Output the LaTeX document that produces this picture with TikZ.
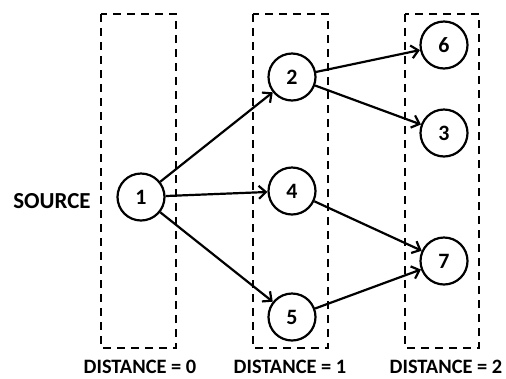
\documentclass[tikz,border=0pt]{standalone}
\usepackage{fontspec}
\setmainfont{Carlito}
\usetikzlibrary{arrows.meta}

\begin{document}
\begin{tikzpicture}[x=1bp, y=-1bp,
	vertex/.style={circle, draw, line width=2.2bp, minimum size=47bp, inner sep=0pt, font=\fontsize{22}{24}\selectfont\bfseries},
	level/.style={font=\fontsize{20.5}{24}\selectfont\bfseries},
	edge/.style={line width=2.2bp, -{Straight Barb[length=7bp, width=13bp, line width=2.2bp]}},
	column/.style={line width=2.2bp, dash pattern=on 8bp off 6bp}]
	\useasboundingbox (0, 0) rectangle (506, 378);
	% columns
	\draw[column] (101, 14) rectangle (176, 348);
	\draw[column] (253, 14) rectangle (328, 348);
	\draw[column] (405, 14) rectangle (479, 348);
	% vertices
	\node[vertex] (v1) at (141, 197) {1};
	\node[vertex] (v2) at (292, 77) {2};
	\node[vertex] (v4) at (292, 191) {4};
	\node[vertex] (v5) at (292, 317) {5};
	\node[vertex] (v6) at (444, 45) {6};
	\node[vertex] (v3) at (444, 133) {3};
	\node[vertex] (v7) at (444, 261) {7};
	% labels
	\node[level, font=\fontsize{23}{26}\selectfont\bfseries] (src) at (52, 201) {SOURCE};
	\node[level] (d0) at (140, 367) {DISTANCE = 0};
	\node[level] (d1) at (290, 367) {DISTANCE = 1};
	\node[level] (d2) at (446, 367) {DISTANCE = 2};
	% edges
	\draw[edge] (v1) -- (v2);
	\draw[edge] (v1) -- (v4);
	\draw[edge] (v1) -- (v5);
	\draw[edge] (v2) -- (v6);
	\draw[edge] (v2) -- (v3);
	\draw[edge] (v4) -- (v7);
	\draw[edge] (v5) -- (v7);
\end{tikzpicture}
\end{document}
